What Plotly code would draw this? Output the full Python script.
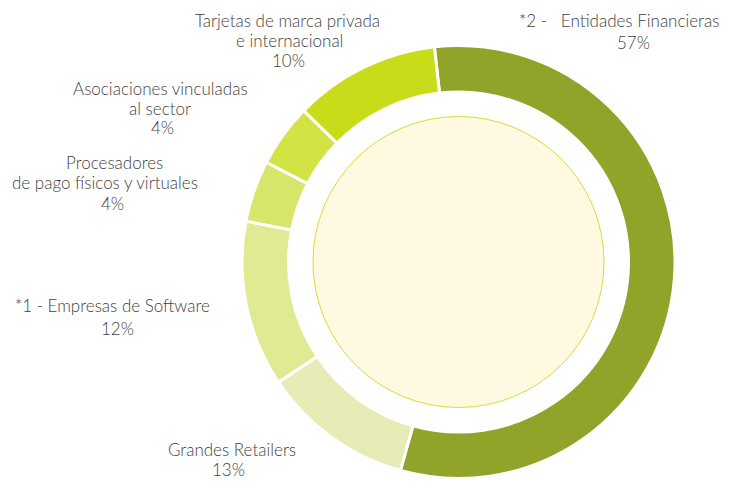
import plotly.graph_objects as go

# ---- data (clockwise from the top) ----
categories = [
    "Entidades Financieras",
    "Grandes Retailers",
    "Empresas de Software",
    "Procesadores de pago físicos y virtuales",
    "Asociaciones vinculadas al sector",
    "Tarjetas de marca privada e internacional",
]
shares = [56.1, 11.3, 12.4, 4.6, 4.7, 10.9]
pct_labels = ["57%", "13%", "12%", "4%", "4%", "10%"]
label_lines = [
    ["*2 -\u00a0\u00a0 Entidades Financieras"],
    ["Grandes Retailers"],
    ["*1 - Empresas de Software"],
    ["Procesadores", "de pago físicos y virtuales"],
    ["Asociaciones vinculadas", "al sector"],
    ["Tarjetas de marca privada", "e internacional"],
]
colors = ["#91a429", "#e7ebb6", "#e0ea93", "#d7e56a", "#d3e344", "#c8dc1a"]

W, H = 732, 481
cx, cy, R = 458.5, 262.0, 216.5
hole_r = 170.0
cream_r = 145.5

fig = go.Figure(go.Pie(
    labels=categories,
    values=shares,
    sort=False,
    direction="clockwise",
    rotation=-6.4,
    hole=hole_r / R,
    marker=dict(colors=colors, line=dict(color="white", width=3)),
    textinfo="none",
    hoverinfo="label+percent",
    showlegend=False,
    domain=dict(x=[(cx - R) / W, (cx + R) / W],
                y=[1 - (cy + R) / H, 1 - (cy - R) / H]),
))

# cream centre disc
fig.add_shape(type="circle", xref="paper", yref="paper",
              x0=(cx - cream_r) / W, x1=(cx + cream_r) / W,
              y0=1 - (cy + cream_r) / H, y1=1 - (cy - cream_r) / H,
              fillcolor="#fef9e0", line=dict(color="#cfe03a", width=1),
              layer="above")

# label placement (pixel centres of each text line)
line_pos = [
    [(619, 20), (633, 42)],
    [(232, 449), (228, 469)],
    [(112, 305), (117, 328)],
    [(114, 162), (105, 182), (112, 203)],
    [(160, 88), (160, 108), (162, 127)],
    [(287, 20), (289, 40), (288, 60)],
]

font = dict(family="Lato", size=17, color="#3f3f3f", weight=300)
for lines, pct, pos in zip(label_lines, pct_labels, line_pos):
    texts = lines + [pct]
    for t, (px, py) in zip(texts, pos):
        fig.add_annotation(x=px / W, y=1 - py / H, xref="paper", yref="paper",
                           text=t, showarrow=False, xanchor="center",
                           yanchor="middle", font=font)

fig.update_layout(width=W, height=H, margin=dict(l=0, r=0, t=0, b=0),
                  paper_bgcolor="white", plot_bgcolor="white")

fig.write_html("out.html", config={"displayModeBar": False},
               post_script="document.body.style.margin='0';document.body.style.padding='0';")
